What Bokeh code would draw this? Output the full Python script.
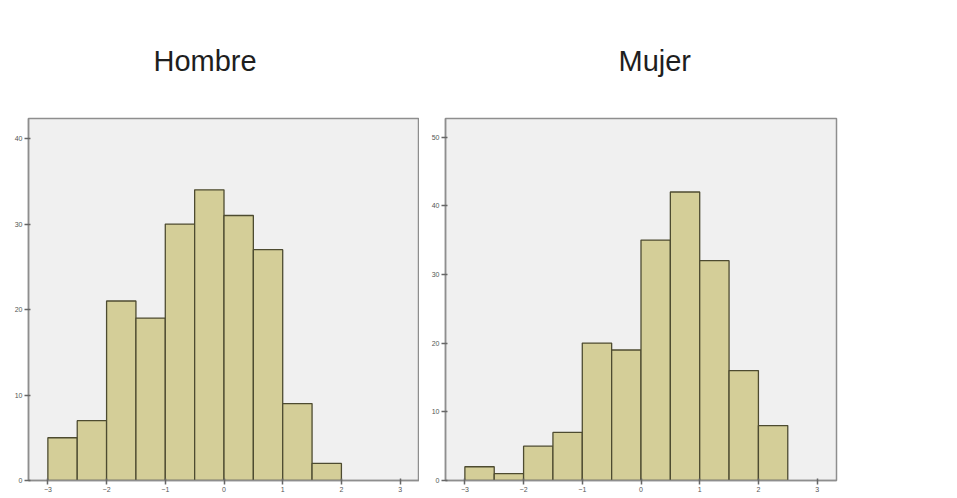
from bokeh.plotting import figure
from bokeh.layouts import row
from bokeh.models import Range1d, FixedTicker
from bokeh.embed import file_html
from bokeh.resources import INLINE

# Data
bin_left = [-3.0, -2.5, -2.0, -1.5, -1.0, -0.5, 0.0, 0.5, 1.0, 1.5, 2.0]
bin_width = 0.5
hombre_counts = [5, 7, 21, 19, 30, 34, 31, 27, 9, 2, 0]
mujer_counts = [2, 1, 5, 7, 20, 19, 35, 42, 32, 16, 8]
x_ticks = [-3, -2, -1, 0, 1, 2, 3]
hombre_yticks = [0, 10, 20, 30, 40]
mujer_yticks = [0, 10, 20, 30, 40, 50]

BAR_FILL = "#d4ce98"
BAR_LINE = "#4d4b30"
BG = "#f0f0f0"
FRAME = "#8e8e8e"


def make_panel(title, counts, yticks, ymax, border_left, title_offset, border_right):
    p = figure(frame_width=391, frame_height=362, output_backend="svg",
               toolbar_location=None, min_border_left=border_left,
               min_border_right=border_right, min_border_top=118,
               min_border_bottom=16,
               x_range=Range1d(-3.33, 3.33), y_range=Range1d(0, ymax))
    p.title.text = title
    p.title.align = "left"
    p.title.offset = title_offset
    p.title.standoff = 83
    p.title.text_font = "Liberation Sans"
    p.title.text_font_size = "29px"
    p.title.text_font_style = "normal"
    p.title.text_color = "#1e1e1e"
    p.background_fill_color = BG
    p.border_fill_color = "white"
    p.outline_line_color = FRAME
    p.outline_line_width = 1.5
    p.grid.visible = False
    lefts = [l for l, c in zip(bin_left, counts) if c > 0]
    tops = [c for c in counts if c > 0]
    rights = [l + bin_width for l in lefts]
    p.quad(left=lefts, right=rights, bottom=0, top=tops,
           fill_color=BAR_FILL, line_color=BAR_LINE, line_width=1.3)
    p.xaxis.ticker = FixedTicker(ticks=x_ticks)
    p.yaxis.ticker = FixedTicker(ticks=yticks)
    for ax in (p.xaxis[0], p.yaxis[0]):
        ax.axis_line_color = FRAME
        ax.axis_line_width = 1.5
        ax.major_tick_line_color = "#666666"
        ax.major_tick_line_width = 1.5
        ax.major_tick_out = 4
        ax.major_tick_in = 2
        ax.minor_tick_line_color = None
        ax.major_label_text_font_size = "7px"
        ax.major_label_text_color = "#555555"
        ax.major_label_text_font = "Liberation Sans"
        ax.major_label_standoff = 2
    return p


left = make_panel("Hombre", hombre_counts, hombre_yticks, 42.35, 28, 125, 0)
right = make_panel("Mujer", mujer_counts, mujer_yticks, 52.7, 26, 173, 10)

layout = row(left, right, spacing=0)
open("out.html", "w").write(file_html(layout, INLINE))
